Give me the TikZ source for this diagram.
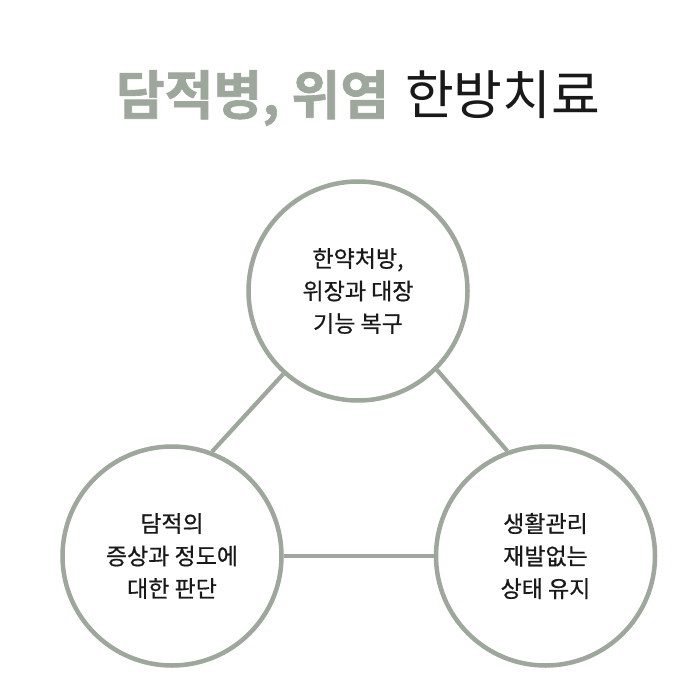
\documentclass[tikz,border=0pt]{standalone}
\usepackage{fontspec}
\newfontfamily\kr{Noto Sans CJK KR}
\newfontfamily\krm[FakeBold=0.6]{Noto Sans CJK KR}
\newfontfamily\krb[FakeBold=1.2]{Noto Sans CJK KR Bold}
\definecolor{sage}{RGB}{157,167,155}
\definecolor{ink}{RGB}{25,25,25}
\tikzset{
  bubble/.style={circle, draw=sage, line width=4.5pt, minimum size=219pt, inner sep=0pt,
    align=center, text=ink, font=\krm\fontsize{23}{32.5}\selectfont},
  link/.style={draw=sage, line width=4.2pt}
}
\begin{document}
\begin{tikzpicture}[x=1pt,y=-1pt]
\useasboundingbox[fill=white] (0,0) rectangle (700,700);
\node (title) at (358,98) {\fontsize{53}{60}\selectfont{\krb\color{sage}담적병, 위염} {\kr\color{ink}한방치료}};
\node[bubble] (c1) at (358,291) {한약처방,\\위장과 대장\\기능 복구};
\node[bubble] (c2) at (172,556) {담적의\\증상과 정도에\\대한 판단};
\node[bubble] (c3) at (545.5,556) {생활관리\\재발없는\\상태 유지};
\draw[link] (c1.228) -- (c2.69);
\draw[link] (c1.315) -- (c3.110);
\draw[link] (c2.east) -- (c3.west);
\end{tikzpicture}
\end{document}
